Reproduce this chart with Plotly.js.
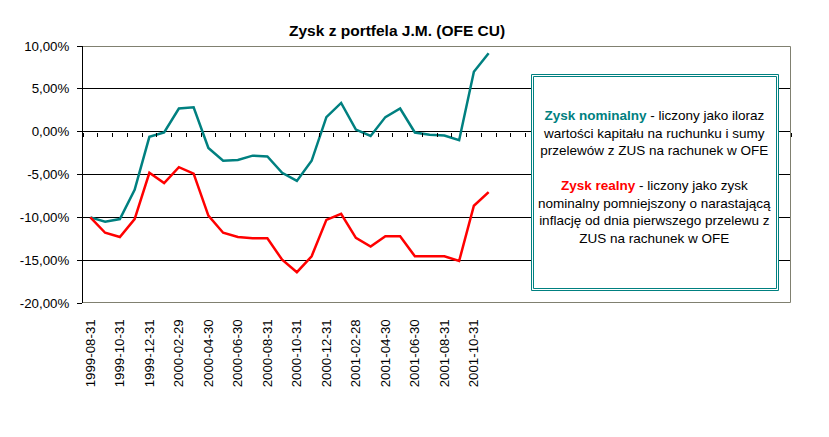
<!DOCTYPE html>
<html>
<head>
<meta charset="utf-8">
<script src="https://cdn.plot.ly/plotly-3.0.1.min.js"></script>
<style>
  html, body { margin: 0; padding: 0; background: #fff; }
  #chart { width: 829px; height: 437px; }
</style>
</head>
<body>
<div id="chart"></div>
<script>
// daty wycen (koniec miesiąca)
const daty = [
  "1999-08-31", "1999-09-30", "1999-10-31", "1999-11-30", "1999-12-31",
  "2000-01-31", "2000-02-29", "2000-03-31", "2000-04-30", "2000-05-31",
  "2000-06-30", "2000-07-31", "2000-08-31", "2000-09-30", "2000-10-31",
  "2000-11-30", "2000-12-31", "2001-01-31", "2001-02-28", "2001-03-31",
  "2001-04-30", "2001-05-31", "2001-06-30", "2001-07-31", "2001-08-31",
  "2001-09-30", "2001-10-31", "2001-11-30"
];

// zysk w %
const zyskNominalny = [
  -10.0, -10.5, -10.2, -6.8, -0.6, -0.1, 2.7, 2.85, -1.9, -3.4,
  -3.3, -2.8, -2.9, -4.8, -5.75, -3.4, 1.7, 3.35, 0.25, -0.5,
  1.7, 2.7, -0.1, -0.35, -0.45, -1.0, 7.0, 9.15
];
const zyskRealny = [
  -10.0, -11.8, -12.3, -10.2, -4.8, -6.0, -4.15, -4.9, -9.8, -11.8,
  -12.3, -12.45, -12.45, -14.95, -16.4, -14.55, -10.3, -9.6, -12.4, -13.4,
  -12.2, -12.2, -14.55, -14.55, -14.55, -15.1, -8.65, -7.05
];

// oś kategorii ma 48 miejsc, dane zajmują pierwsze 28
const liczbaKategorii = 48;

// etykiety osi Y
const yTicks = [10, 5, 0, -5, -10, -15, -20];
const yTickText = ["10,00%", "5,00%", "0,00%", "-5,00%", "-10,00%", "-15,00%", "-20,00%"];

const idx = daty.map((d, i) => i);
const xTickVals = idx.filter(i => i % 2 === 0);
const xTickText = xTickVals.map(i => daty[i]);

const teal = "#008080";
const czerwony = "#FF0000";
const ramka = "#808070";
const font = "Liberation Sans, Arial, sans-serif";

const nominalny = {
  x: idx,
  y: zyskNominalny,
  type: "scatter",
  mode: "lines",
  name: "Zysk nominalny",
  line: { color: teal, width: 2.5 },
  xaxis: "x",
  yaxis: "y"
};

const realny = {
  x: idx,
  y: zyskRealny,
  type: "scatter",
  mode: "lines",
  name: "Zysk realny",
  line: { color: czerwony, width: 2.5 },
  xaxis: "x2",
  yaxis: "y"
};

const zakres = [-0.5, liczbaKategorii - 0.5];

// prostokąt w pikselach względem lewego dolnego rogu obszaru wykresu
function ramkaPx(x0, x1, y0, y1, kolor, wypelnienie) {
  return {
    type: "rect",
    xref: "paper", yref: "paper",
    xsizemode: "pixel", ysizemode: "pixel",
    xanchor: 0, yanchor: 0,
    x0: x0, x1: x1, y0: y0, y1: y1,
    line: { color: kolor, width: 1 },
    fillcolor: wypelnienie,
    layer: "above"
  };
}

const layout = {
  width: 829,
  height: 437,
  margin: { l: 83, r: 38, t: 46, b: 134 },
  paper_bgcolor: "#fff",
  plot_bgcolor: "#fff",
  showlegend: false,
  separators: ", ",
  font: { family: font, size: 13.3, color: "#000" },
  title: {
    text: "<b>Zysk z portfela J.M. (OFE CU)</b>",
    font: { family: font, size: 15.5, color: "#000" },
    xref: "container", x: 0.479,
    yref: "container", y: 0.931, yanchor: "middle"
  },
  xaxis: {
    range: zakres,
    showgrid: false,
    zeroline: false,
    showline: false,
    tickmode: "array",
    tickvals: xTickVals,
    ticktext: xTickText,
    tickangle: -90,
    ticks: "outside",
    ticklen: 10,
    tickcolor: "rgba(0,0,0,0)",
    tickfont: { family: font, size: 13.3, color: "#000" }
  },
  // oś X przecinająca na 0% z kreskami między kategoriami
  xaxis2: {
    range: zakres,
    overlaying: "x",
    anchor: "free",
    position: 20 / 30,
    side: "bottom",
    showgrid: false,
    zeroline: false,
    showline: false,
    tickmode: "linear",
    tick0: -0.5,
    dtick: 1,
    ticks: "outside",
    ticklen: 4,
    tickcolor: "#000",
    showticklabels: false
  },
  yaxis: {
    range: [-20, 10],
    tickmode: "array",
    tickvals: yTicks,
    ticktext: yTickText,
    showgrid: true,
    gridcolor: "#000",
    gridwidth: 1,
    zeroline: false,
    showline: true,
    linecolor: "#000",
    linewidth: 1,
    ticks: "outside",
    ticklen: 5,
    tickcolor: "#000",
    ticklabelstandoff: 5,
    tickfont: { family: font, size: 13.3, color: "#000" }
  },
  shapes: [
    // ramka obszaru wykresu (góra, prawo, dół)
    {
      type: "path", xref: "paper", yref: "paper",
      xsizemode: "pixel", ysizemode: "pixel",
      xanchor: 0, yanchor: 0,
      path: "M 0,256.5 L 707.5,256.5 L 707.5,0.5 L 0,0.5",
      line: { color: ramka, width: 1 },
      layer: "above"
    },
    // pole opisu - podwójna ramka
    ramkaPx(448.5, 695.5, 12.5, 228.5, teal, "#fff"),
    ramkaPx(450.5, 693.5, 14.5, 226.5, teal, "rgba(0,0,0,0)")
  ],
  annotations: [
    {
      xref: "paper", yref: "paper",
      x: 0.8072, y: 0.49,
      xanchor: "center", yanchor: "middle",
      showarrow: false,
      align: "center",
      font: { family: font, size: 13.5, color: "#000" },
      text:
        "<b><span style='color:" + teal + "'>Zysk nominalny</span></b> - liczony jako iloraz<br>" +
        "wartości kapitału na ruchunku i sumy<br>" +
        "przelewów z ZUS na rachunek w OFE<br><br>" +
        "<b><span style='color:" + czerwony + "'>Zysk realny</span></b> - liczony jako zysk<br>" +
        "nominalny pomniejszony o narastającą<br>" +
        "inflację od dnia pierwszego przelewu z<br>" +
        "ZUS na rachunek w OFE"
    }
  ]
};

Plotly.newPlot("chart", [nominalny, realny], layout, { displayModeBar: false, staticPlot: true });
</script>
</body>
</html>
